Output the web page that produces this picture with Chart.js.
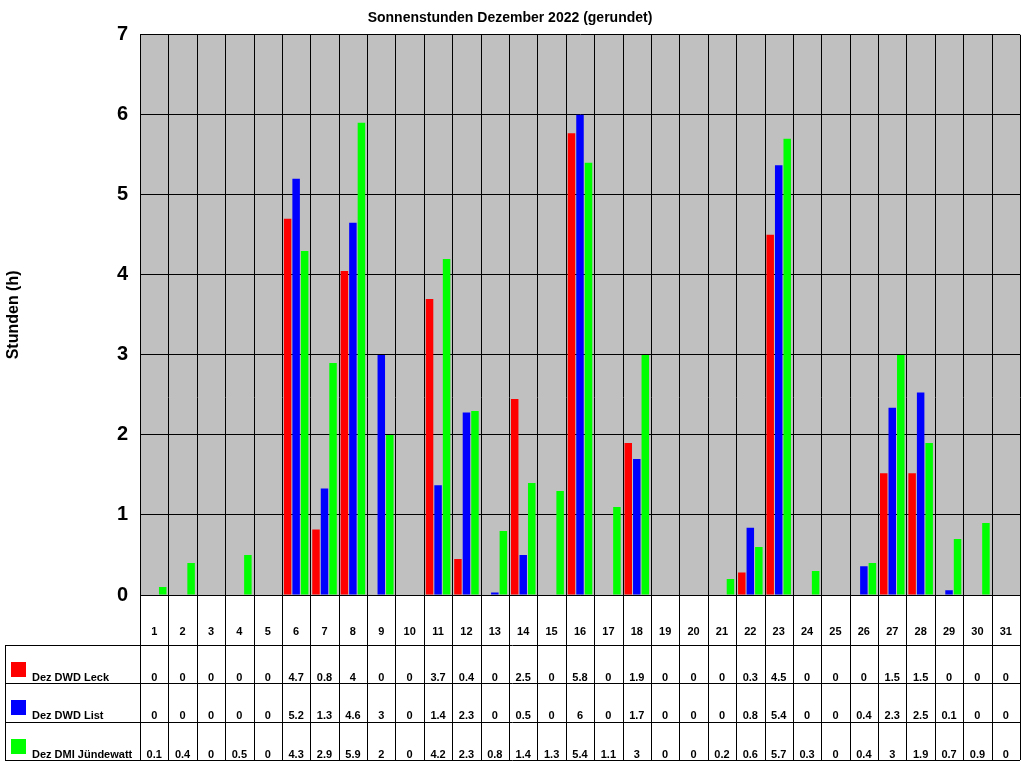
<!DOCTYPE html>
<html><head><meta charset="utf-8">
<script src="https://cdn.jsdelivr.net/npm/chart.js@4/dist/chart.umd.min.js"></script>
<style>body{margin:0;background:#fff}</style>
</head><body><canvas id="c" width="1024" height="768"></canvas>
<script>
const days = Array.from({length: 31}, (_, i) => String(i + 1));
const leck = [0,0,0,0,0,4.7,0.82,4.05,0,0,3.7,0.45,0,2.45,0,5.77,0,1.9,0,0,0,0.28,4.5,0,0,0,1.52,1.52,0,0,0];
const list = [0,0,0,0,0,5.2,1.33,4.65,3.0,0,1.37,2.28,0.03,0.5,0,6.0,0,1.7,0,0,0,0.84,5.37,0,0,0.36,2.34,2.53,0.06,0,0];
const dmi = [0.1,0.4,0,0.5,0,4.3,2.9,5.9,2.0,0,4.2,2.3,0.8,1.4,1.3,5.4,1.1,3.0,0,0,0.2,0.6,5.7,0.3,0,0.4,3.0,1.9,0.7,0.9,0];
const leckTab = ['0','0','0','0','0','4.7','0.8','4','0','0','3.7','0.4','0','2.5','0','5.8','0','1.9','0','0','0','0.3','4.5','0','0','0','1.5','1.5','0','0','0'];
const listTab = ['0','0','0','0','0','5.2','1.3','4.6','3','0','1.4','2.3','0','0.5','0','6','0','1.7','0','0','0','0.8','5.4','0','0','0.4','2.3','2.5','0.1','0','0'];
const dmiTab = ['0.1','0.4','0','0.5','0','4.3','2.9','5.9','2','0','4.2','2.3','0.8','1.4','1.3','5.4','1.1','3','0','0','0.2','0.6','5.7','0.3','0','0.4','3','1.9','0.7','0.9','0'];
const names = ['Dez DWD Leck', 'Dez DWD List', 'Dez DMI Jündewatt'];
const colors = ['#ff0000', '#0000ff', '#00ff00'];

const tablePlugin = {
  id: 'table',
  beforeDatasetsDraw(chart) {},
  beforeDraw(chart) {
    const a = chart.chartArea, g = chart.ctx;
    g.save();
    g.fillStyle = '#fff';
    g.fillRect(0, 0, chart.width, chart.height);
    g.fillStyle = '#c0c0c0';
    g.fillRect(a.left, a.top, a.right - a.left, a.bottom - a.top);
    g.restore();
  },
  afterDraw(chart) {
    const a = chart.chartArea, g = chart.ctx, x = chart.scales.x;
    const rows = [a.bottom, 645, 683, 722, 760];
    const w = (a.right - a.left) / days.length;
    g.save();
    g.strokeStyle = '#000';
    g.lineWidth = 1;
    for (let i = 0; i <= days.length; i++) {
      const xx = Math.round(a.left + i * w) + 0.5;
      g.beginPath(); g.moveTo(xx, a.top); g.lineTo(xx, rows[4]); g.stroke();
    }
    g.beginPath(); g.moveTo(5.5, rows[1]); g.lineTo(5.5, rows[4]); g.stroke();
    for (let r = 1; r < rows.length; r++) {
      g.beginPath(); g.moveTo(5, rows[r] + 0.5); g.lineTo(a.right, rows[r] + 0.5); g.stroke();
    }
    g.fillStyle = '#000';
    g.font = 'bold 11px Arial, "Liberation Sans"';
    g.textAlign = 'center'; g.textBaseline = 'middle';
    days.forEach((d, i) => g.fillText(d, x.getPixelForValue(i), 632));
    const tabs = [leckTab, listTab, dmiTab];
    tabs.forEach((t, r) => {
      const y = rows[r + 1] + 33;
      t.forEach((v, i) => g.fillText(v, x.getPixelForValue(i), y));
      g.fillStyle = colors[r];
      g.fillRect(11, rows[r + 1] + 17, 15, 15);
      g.fillStyle = '#000';
      g.textAlign = 'left';
      g.fillText(names[r], 32, y);
      g.textAlign = 'center';
    });
    g.restore();
  }
};

new Chart(document.getElementById('c'), {
  type: 'bar',
  data: {
    labels: days,
    datasets: [
      { label: names[0], data: leck, backgroundColor: colors[0] },
      { label: names[1], data: list, backgroundColor: colors[1] },
      { label: names[2], data: dmi, backgroundColor: colors[2] }
    ]
  },
  options: {
    responsive: false,
    animation: false,
    devicePixelRatio: 1,
    datasets: { bar: { categoryPercentage: 0.9, barPercentage: 0.88 } },
    layout: { padding: { top: 0, right: 4, bottom: 165, left: 0 } },
    plugins: {
      legend: { display: false },
      tooltip: { enabled: false },
      title: {
        display: true, text: 'Sonnenstunden Dezember 2022 (gerundet)', color: '#000',
        font: { family: 'Arial, "Liberation Sans"', size: 14, weight: 'bold' },
        padding: { top: 10, bottom: 8 }
      }
    },
    scales: {
      x: {
        ticks: { display: false },
        grid: { display: false },
        border: { color: '#000' }
      },
      y: {
        min: 0, max: 7,
        afterFit(s) { s.width = 140; },
        ticks: { stepSize: 1, color: '#000', padding: 12, font: { family: 'Arial, "Liberation Sans"', size: 20, weight: 'bold' } },
        grid: { color: '#000', drawTicks: false },
        border: { color: '#000' },
        title: { display: true, text: 'Stunden (h)', color: '#000', font: { family: 'Arial, "Liberation Sans"', size: 16, weight: 'bold' }, padding: { bottom: 30 } }
      }
    }
  },
  plugins: [tablePlugin]
});
</script>
</body></html>
